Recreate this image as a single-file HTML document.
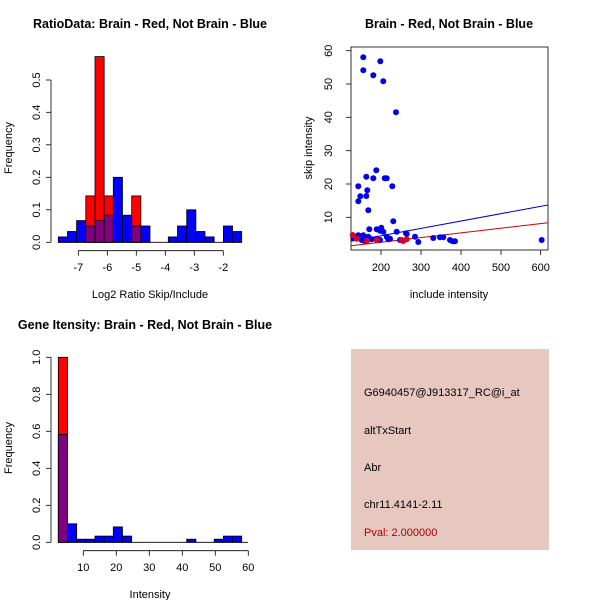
<!DOCTYPE html>
<html><head><meta charset="utf-8"><style>body{margin:0;background:#fff}svg{display:block}text{font-family:"Liberation Sans",sans-serif;font-size:11px;fill:#000}.t{font-weight:bold;font-size:12.5px}</style></head><body>
<svg width="600" height="600" viewBox="0 0 600 600">
<!-- Plot 1 -->
<text class="t" x="150" y="28" text-anchor="middle">RatioData: Brain - Red, Not Brain - Blue</text>
<g stroke="#000" stroke-width="0.8">
<rect x="58.3" y="236.9" width="9.17" height="5.4" fill="#0000ff"/>
<rect x="67.5" y="231.5" width="9.17" height="10.8" fill="#0000ff"/>
<rect x="76.6" y="220.6" width="9.17" height="21.7" fill="#0000ff"/>
<rect x="85.8" y="195.9" width="9.17" height="46.4" fill="#ff0000"/>
<rect x="85.8" y="226" width="9.17" height="16.3" fill="#800080"/>
<rect x="95" y="56.6" width="9.17" height="185.7" fill="#ff0000"/>
<rect x="95" y="220.6" width="9.17" height="21.7" fill="#800080"/>
<rect x="104.2" y="195.9" width="9.17" height="46.4" fill="#ff0000"/>
<rect x="104.2" y="215.2" width="9.17" height="27.1" fill="#800080"/>
<rect x="113.3" y="177.3" width="9.17" height="65" fill="#0000ff"/>
<rect x="122.5" y="215.2" width="9.17" height="27.1" fill="#0000ff"/>
<rect x="131.7" y="195.9" width="9.17" height="46.4" fill="#ff0000"/>
<rect x="131.7" y="226" width="9.17" height="16.3" fill="#800080"/>
<rect x="140.8" y="226" width="9.17" height="16.3" fill="#0000ff"/>
<rect x="168.3" y="236.9" width="9.17" height="5.4" fill="#0000ff"/>
<rect x="177.5" y="226" width="9.17" height="16.3" fill="#0000ff"/>
<rect x="186.7" y="209.8" width="9.17" height="32.5" fill="#0000ff"/>
<rect x="195.8" y="231.5" width="9.17" height="10.8" fill="#0000ff"/>
<rect x="205" y="236.9" width="9.17" height="5.4" fill="#0000ff"/>
<rect x="223.4" y="226" width="9.17" height="16.3" fill="#0000ff"/>
<rect x="232.5" y="231.5" width="9.17" height="10.8" fill="#0000ff"/>
<line x1="58" y1="242.3" x2="242" y2="242.3"/>
<line x1="51" y1="242.3" x2="51" y2="80"/>
<line x1="51" y1="242.3" x2="46" y2="242.3"/><line x1="51" y1="209.8" x2="46" y2="209.8"/><line x1="51" y1="177.3" x2="46" y2="177.3"/><line x1="51" y1="144.8" x2="46" y2="144.8"/><line x1="51" y1="112.3" x2="46" y2="112.3"/><line x1="51" y1="80" x2="46" y2="80"/>
<line x1="78.3" y1="250.7" x2="223.3" y2="250.7"/>
<line x1="78.3" y1="250.7" x2="78.3" y2="255.7"/><line x1="107.3" y1="250.7" x2="107.3" y2="255.7"/><line x1="136.3" y1="250.7" x2="136.3" y2="255.7"/><line x1="165.3" y1="250.7" x2="165.3" y2="255.7"/><line x1="194.3" y1="250.7" x2="194.3" y2="255.7"/><line x1="223.3" y1="250.7" x2="223.3" y2="255.7"/>
</g>
<g text-anchor="middle">
<text transform="translate(40,242.3) rotate(-90)">0.0</text><text transform="translate(40,209.8) rotate(-90)">0.1</text><text transform="translate(40,177.3) rotate(-90)">0.2</text><text transform="translate(40,144.8) rotate(-90)">0.3</text><text transform="translate(40,112.3) rotate(-90)">0.4</text><text transform="translate(40,80) rotate(-90)">0.5</text>
<text x="78.3" y="271">-7</text><text x="107.3" y="271">-6</text><text x="136.3" y="271">-5</text><text x="165.3" y="271">-4</text><text x="194.3" y="271">-3</text><text x="223.3" y="271">-2</text>
<text x="150" y="298">Log2 Ratio Skip/Include</text>
<text transform="translate(12,148) rotate(-90)">Frequency</text>
</g>
<!-- Plot 2 -->
<text class="t" x="449" y="28" text-anchor="middle">Brain - Red, Not Brain - Blue</text>
<g stroke="#000" stroke-width="0.8" fill="none">
<rect x="351" y="47" width="197" height="203"/>
<line x1="351" y1="50.7" x2="346" y2="50.7"/><line x1="351" y1="84" x2="346" y2="84"/><line x1="351" y1="117.3" x2="346" y2="117.3"/><line x1="351" y1="150.7" x2="346" y2="150.7"/><line x1="351" y1="184" x2="346" y2="184"/><line x1="351" y1="217.3" x2="346" y2="217.3"/>
<line x1="381" y1="250" x2="381" y2="255"/><line x1="421" y1="250" x2="421" y2="255"/><line x1="461" y1="250" x2="461" y2="255"/><line x1="501" y1="250" x2="501" y2="255"/><line x1="540.7" y1="250" x2="540.7" y2="255"/>
</g>
<line x1="351" y1="241.3" x2="548" y2="205" stroke="#0000cc" stroke-width="1"/>
<line x1="351" y1="245.7" x2="548" y2="222.7" stroke="#cc0000" stroke-width="1"/>
<g fill="#0000ee">
<circle cx="363.3" cy="57.3" r="3"/><circle cx="380.3" cy="61.3" r="3"/><circle cx="363.3" cy="70.3" r="3"/><circle cx="373.3" cy="75.3" r="3"/><circle cx="383.3" cy="81.3" r="3"/><circle cx="396" cy="112.3" r="3"/>
<circle cx="376.3" cy="170.3" r="3"/><circle cx="358.3" cy="186.3" r="3"/><circle cx="366.3" cy="176.7" r="3"/><circle cx="373.3" cy="178.3" r="3"/><circle cx="384.7" cy="178.3" r="3"/><circle cx="386.7" cy="178.3" r="3"/><circle cx="392.3" cy="186.3" r="3"/>
<circle cx="360.3" cy="196.3" r="3"/><circle cx="367.3" cy="190.3" r="3"/><circle cx="366.3" cy="196" r="3"/><circle cx="358.3" cy="201.3" r="3"/><circle cx="368.3" cy="210.3" r="3"/>
<circle cx="369.3" cy="229.3" r="3"/><circle cx="381.3" cy="227.7" r="3"/><circle cx="393.3" cy="221.3" r="3"/><circle cx="383.3" cy="231.7" r="3"/><circle cx="358.3" cy="235.3" r="3"/><circle cx="363.3" cy="235.3" r="3"/><circle cx="368.3" cy="236.7" r="3"/><circle cx="376.7" cy="229.3" r="3"/><circle cx="380" cy="230.7" r="3"/><circle cx="396.7" cy="231.7" r="3"/>
<circle cx="406" cy="233.3" r="3"/><circle cx="415" cy="236.7" r="3"/><circle cx="406.7" cy="234" r="3"/><circle cx="386.7" cy="236.7" r="3"/><circle cx="390" cy="238.7" r="3"/><circle cx="400" cy="240" r="3"/><circle cx="418.3" cy="242" r="3"/><circle cx="433.3" cy="238" r="3"/><circle cx="440" cy="237.3" r="3"/><circle cx="443.3" cy="237.3" r="3"/><circle cx="450" cy="240" r="3"/><circle cx="452.7" cy="241.3" r="3"/><circle cx="455" cy="241.3" r="3"/><circle cx="541.7" cy="240" r="3"/>
<circle cx="353.3" cy="238.3" r="3"/><circle cx="361.7" cy="240" r="3"/><circle cx="371.7" cy="239.3" r="3"/><circle cx="365" cy="241.3" r="3"/><circle cx="380" cy="240" r="3"/><circle cx="388.3" cy="239.3" r="3"/><circle cx="376.7" cy="238.7" r="3"/><circle cx="366.7" cy="239.3" r="3"/>
</g>
<g fill="#dd0022">
<circle cx="352.7" cy="235" r="3"/><circle cx="376.7" cy="240" r="3"/><circle cx="401.7" cy="240" r="3"/><circle cx="403.3" cy="241" r="3"/><circle cx="406.7" cy="239.3" r="3"/><circle cx="366.7" cy="241" r="3"/><circle cx="356.7" cy="238.7" r="3"/>
</g>
<g text-anchor="middle">
<text transform="translate(332,217.3) rotate(-90)">10</text><text transform="translate(332,184) rotate(-90)">20</text><text transform="translate(332,150.7) rotate(-90)">30</text><text transform="translate(332,117.3) rotate(-90)">40</text><text transform="translate(332,84) rotate(-90)">50</text><text transform="translate(332,50.7) rotate(-90)">60</text>
<text x="381" y="271">200</text><text x="421" y="271">300</text><text x="461" y="271">400</text><text x="501" y="271">500</text><text x="540.7" y="271">600</text>
<text x="449" y="298">include intensity</text>
<text transform="translate(312,148) rotate(-90)">skip intensity</text>
</g>
<!-- Plot 3 -->
<text class="t" x="145" y="329" text-anchor="middle">Gene Itensity: Brain - Red, Not Brain - Blue</text>
<g stroke="#000" stroke-width="0.8">
<rect x="58.3" y="357.3" width="9.17" height="185" fill="#ff0000"/>
<rect x="58.3" y="434.4" width="9.17" height="107.9" fill="#800080"/>
<rect x="67.5" y="523.8" width="9.17" height="18.5" fill="#0000ff"/>
<rect x="76.6" y="539.2" width="9.17" height="3.1" fill="#0000ff"/>
<rect x="85.8" y="539.2" width="9.17" height="3.1" fill="#0000ff"/>
<rect x="95" y="536.1" width="9.17" height="6.2" fill="#0000ff"/>
<rect x="104.2" y="536.1" width="9.17" height="6.2" fill="#0000ff"/>
<rect x="113.3" y="526.9" width="9.17" height="15.4" fill="#0000ff"/>
<rect x="122.5" y="536.1" width="9.17" height="6.2" fill="#0000ff"/>
<rect x="186.7" y="539.2" width="9.17" height="3.1" fill="#0000ff"/>
<rect x="214.2" y="539.2" width="9.17" height="3.1" fill="#0000ff"/>
<rect x="223.4" y="536.1" width="9.17" height="6.2" fill="#0000ff"/>
<rect x="232.5" y="536.1" width="9.17" height="6.2" fill="#0000ff"/>
<line x1="58" y1="542.3" x2="248" y2="542.3"/>
<line x1="51" y1="542.3" x2="51" y2="357.3"/>
<line x1="51" y1="542.3" x2="46" y2="542.3"/><line x1="51" y1="505.3" x2="46" y2="505.3"/><line x1="51" y1="468.3" x2="46" y2="468.3"/><line x1="51" y1="431.3" x2="46" y2="431.3"/><line x1="51" y1="394.3" x2="46" y2="394.3"/><line x1="51" y1="357.3" x2="46" y2="357.3"/>
<line x1="83.3" y1="550.7" x2="248.3" y2="550.7"/>
<line x1="83.3" y1="550.7" x2="83.3" y2="555.7"/><line x1="116.3" y1="550.7" x2="116.3" y2="555.7"/><line x1="149.3" y1="550.7" x2="149.3" y2="555.7"/><line x1="182.3" y1="550.7" x2="182.3" y2="555.7"/><line x1="215.3" y1="550.7" x2="215.3" y2="555.7"/><line x1="248.3" y1="550.7" x2="248.3" y2="555.7"/>
</g>
<g text-anchor="middle">
<text transform="translate(40,542.3) rotate(-90)">0.0</text><text transform="translate(40,505.3) rotate(-90)">0.2</text><text transform="translate(40,468.3) rotate(-90)">0.4</text><text transform="translate(40,431.3) rotate(-90)">0.6</text><text transform="translate(40,394.3) rotate(-90)">0.8</text><text transform="translate(40,357.3) rotate(-90)">1.0</text>
<text x="83.3" y="571">10</text><text x="116.3" y="571">20</text><text x="149.3" y="571">30</text><text x="182.3" y="571">40</text><text x="215.3" y="571">50</text><text x="248.3" y="571">60</text>
<text x="150" y="598">Intensity</text>
<text transform="translate(12,448) rotate(-90)">Frequency</text>
</g>
<!-- Panel 4 -->
<rect x="351" y="349" width="198" height="201" fill="#e6c8c0"/>
<text x="364" y="396">G6940457@J913317_RC@i_at</text>
<text x="364" y="434">altTxStart</text>
<text x="364" y="471">Abr</text>
<text x="364" y="508">chr11.4141-2.11</text>
<text x="364" y="536" style="fill:#aa0000">Pval: 2.000000</text>
</svg>
</body></html>
